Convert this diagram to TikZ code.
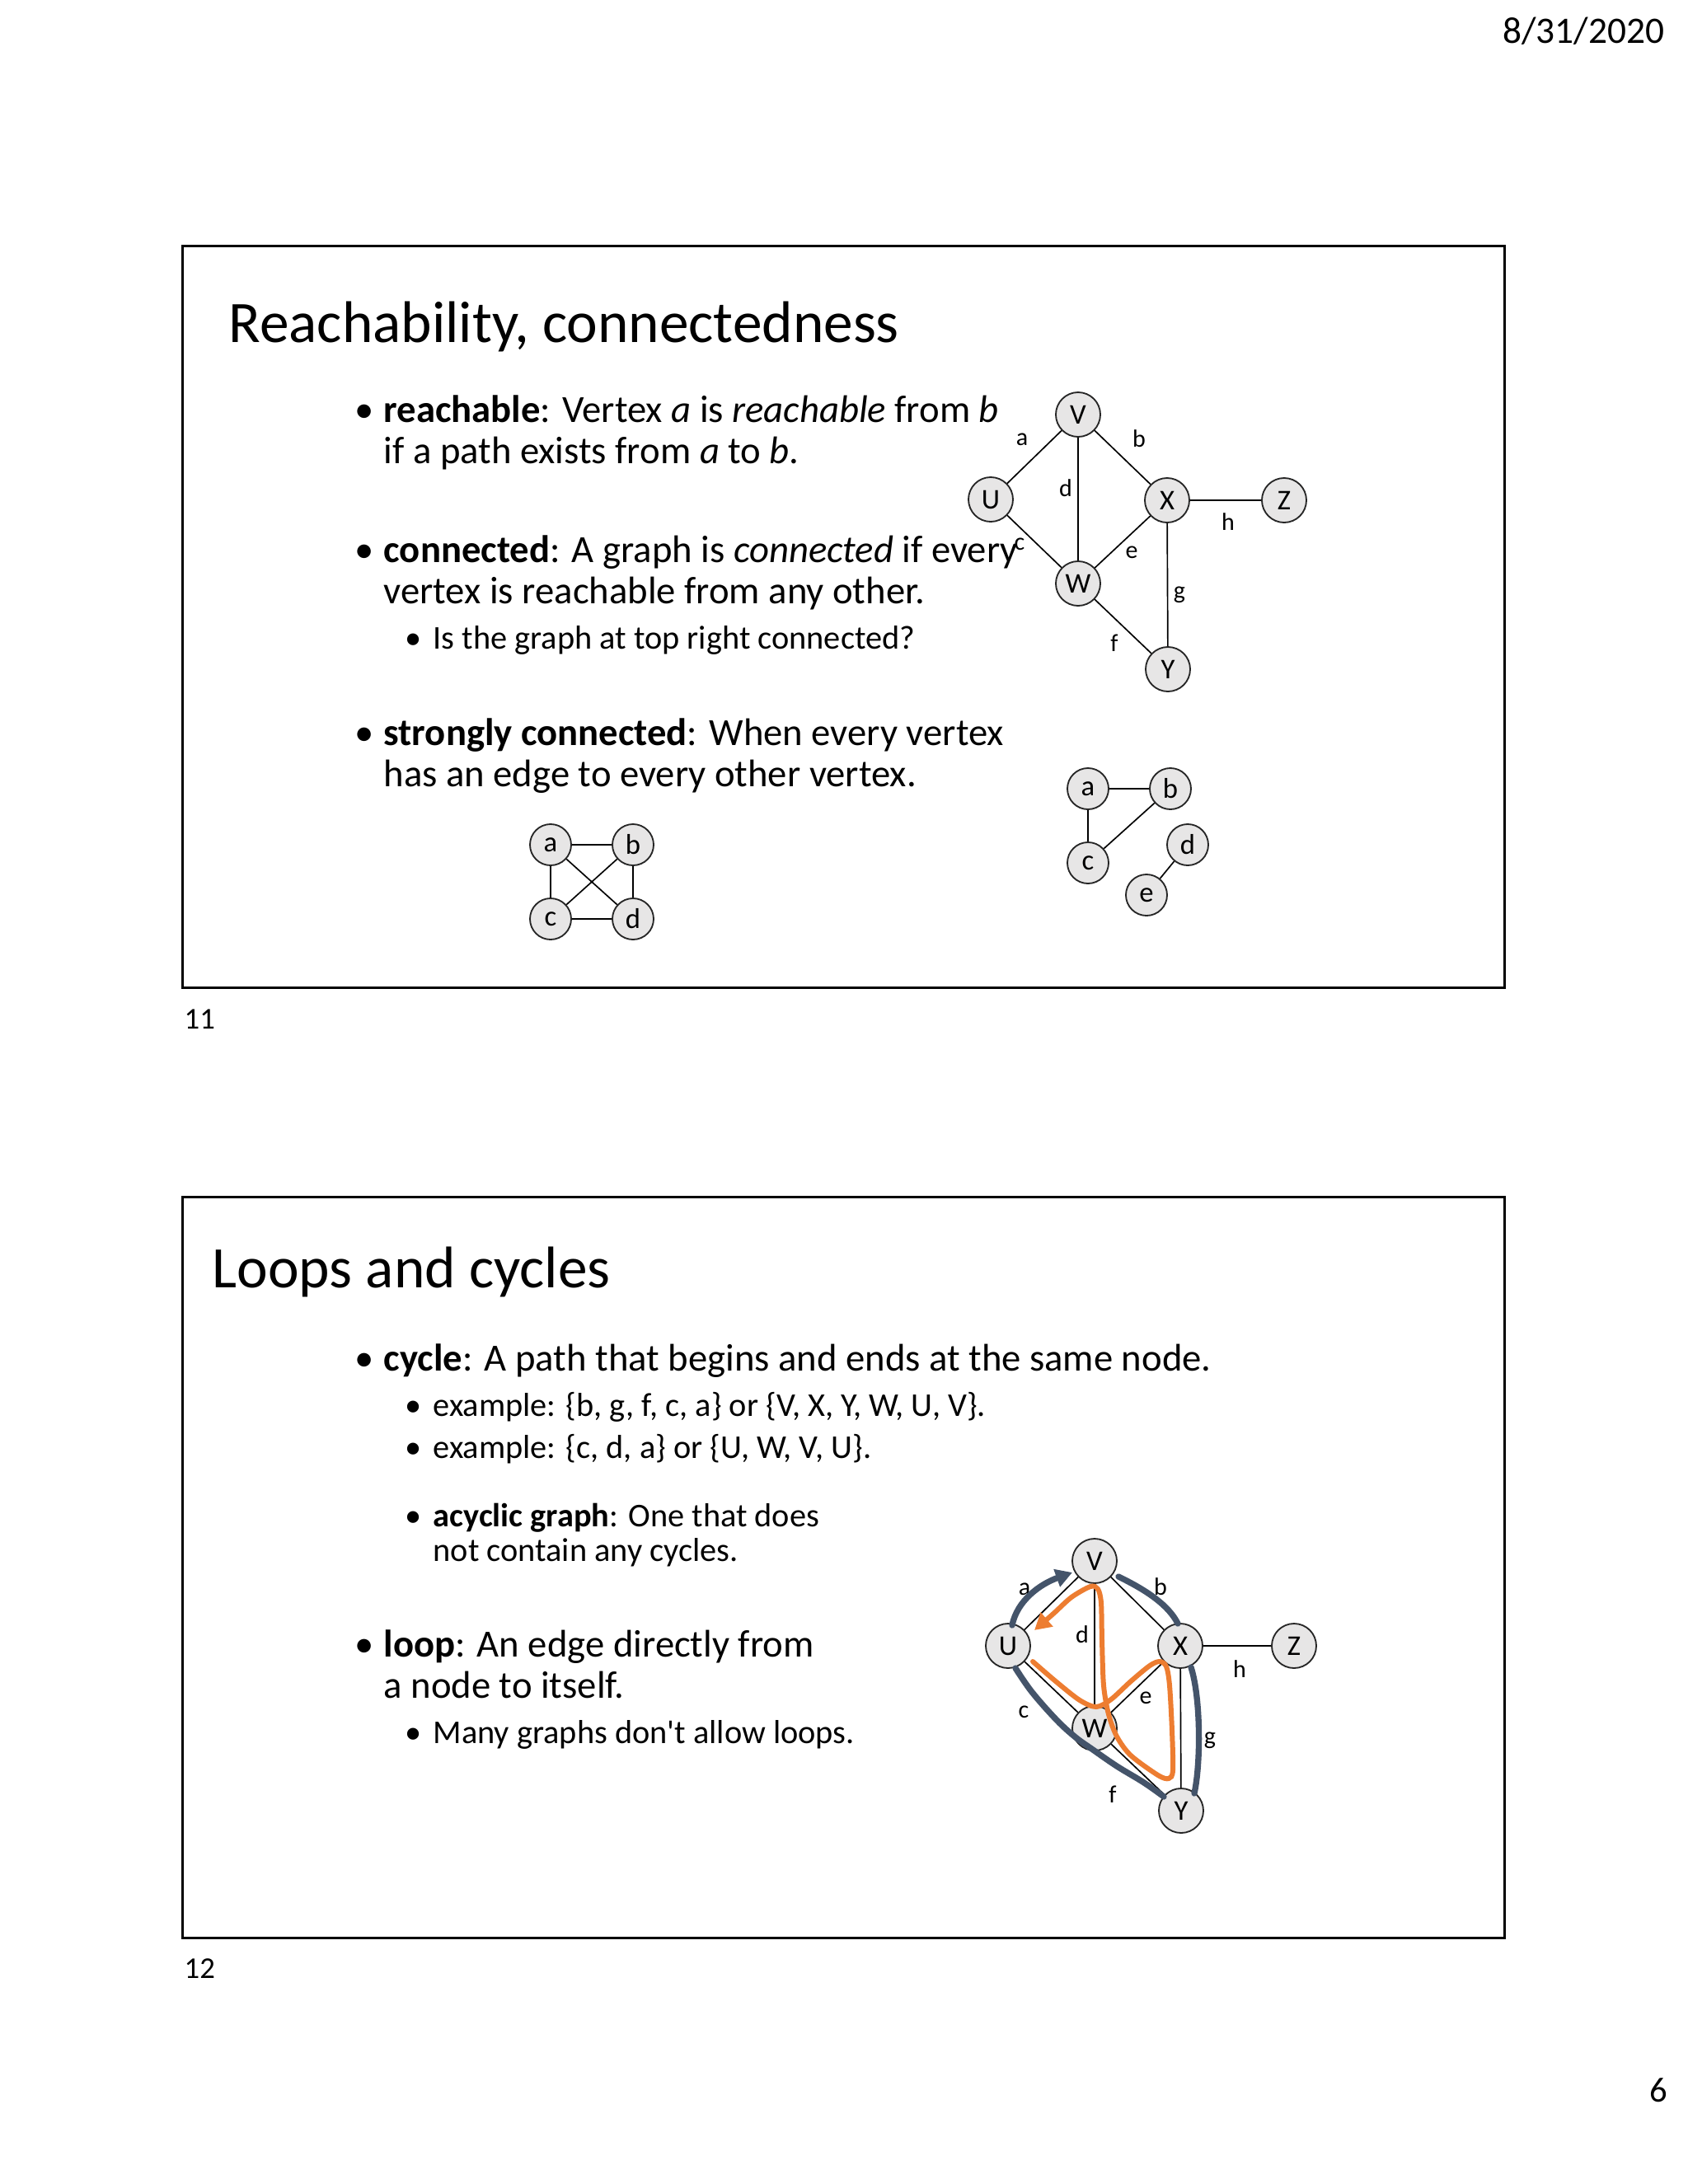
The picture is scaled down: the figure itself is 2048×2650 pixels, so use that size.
\documentclass[tikz,border=0pt]{standalone}
\usepackage{fontspec}
\setmainfont{Carlito}
\usetikzlibrary{arrows.meta,positioning}
\definecolor{vtxfill}{HTML}{E7E6E6}
\definecolor{vtxline}{HTML}{262626}
\definecolor{cycslate}{HTML}{44546A}
\definecolor{cycorange}{HTML}{ED7D31}
\tikzset{
  slideframe/.style={draw=black,line width=0.9pt},
  ttl/.style={anchor=base west,inner sep=0pt,font=\fontsize{21.4}{25}\selectfont},
  itemone/.style={anchor=base west,inner sep=0pt,align=left,font=\fontsize{14}{15}\selectfont},
  itemtwo/.style={anchor=base west,inner sep=0pt,align=left,font=\fontsize{12.1}{12.6}\selectfont},
  dotone/.style={anchor=base,inner sep=0pt,font=\fontsize{14}{15}\selectfont},
  dottwo/.style={anchor=base,inner sep=0pt,font=\fontsize{12.1}{12.6}\selectfont},
  vtx/.style={circle,draw=vtxline,fill=vtxfill,line width=0.55pt,minimum size=16.2pt,inner sep=0pt,font=\fontsize{10.4}{12}\selectfont},
  svtx/.style={vtx,minimum size=15pt},
  elbl/.style={inner sep=0pt,font=\fontsize{9}{11}\selectfont},
  link/.style={draw=black,line width=0.5pt},
  slatepath/.style={draw=cycslate,line width=2.2pt,line cap=round},
  orangepath/.style={draw=cycorange,line width=1.8pt,line cap=round},
  cyctip/.style={-{Triangle[length=6pt,width=6.5pt]}},
  meta/.style={inner sep=0pt,font=\fontsize{13.6}{15}\selectfont},
}
\begin{document}
\begin{tikzpicture}[x=0.3pt,y=-0.3pt]
  \useasboundingbox (0,0) rectangle (2048,2650);
  \fill[white] (0,0) rectangle (2048,2650);
  \node[meta,anchor=base east] (date) at (2020,52) {8/31/2020};
  \node[meta,anchor=base east,font=\fontsize{12.8}{15}\selectfont] (pageno) at (2024,2550) {6};

  % slide 11
  \draw[slideframe] (221,298) rectangle (1825,1198);
  \node[meta,anchor=base west,font=\fontsize{11}{13}\selectfont] (num11) at (223,1248) {11};
  \node[ttl] (title11) at (277,415) {Reachability, connectedness};
  \foreach \y in {512,682,904} \node[dotone] (dot\y) at (442,\y) {\textbullet};
  \node[dottwo] (dot787) at (502,787) {\textbullet};
  \node[itemone] (reach) at (465,562) {\textbf{reachable}: Vertex \textit{a} is \textit{reachable} from \textit{b}\\if a path exists from \textit{a} to \textit{b}.};
  \node[itemone] (conn) at (465,732) {\textbf{connected}: A graph is \textit{connected} if every\\vertex is reachable from any other.};
  \node[itemtwo] (ask) at (525,787) {Is the graph at top right connected?};
  \node[itemone] (strong) at (465,954) {\textbf{strongly connected}: When every vertex\\has an edge to every other vertex.};

  \node[vtx] (tV) at (1308,503) {V};
  \node[vtx] (tU) at (1202,606) {U};
  \node[vtx] (tX) at (1416,607) {X};
  \node[vtx] (tZ) at (1558,607) {Z};
  \node[vtx] (tW) at (1308,708) {W};
  \node[vtx] (tY) at (1417,812) {Y};
  \draw[link] (tU) -- (tV);
  \draw[link] (tV) -- (tX);
  \draw[link] (tU) -- (tW);
  \draw[link] (tV) -- (tW);
  \draw[link] (tW) -- (tX);
  \draw[link] (tW) -- (tY);
  \draw[link] (tX) -- (tY);
  \draw[link] (tX) -- (tZ);
  \node[elbl] (ta) at (1240,533) {a};
  \node[elbl] (tb) at (1382,532) {b};
  \node[elbl] (tc) at (1237,660) {c};
  \node[elbl] (td) at (1293,592) {d};
  \node[elbl] (te) at (1373,670) {e};
  \node[elbl] (tf) at (1352,780) {f};
  \node[elbl] (tg) at (1431,722) {g};
  \node[elbl] (th) at (1490,633) {h};

  % complete graph
  \node[svtx] (ka) at (668,1025) {a};
  \node[svtx] (kb) at (768,1025) {b};
  \node[svtx] (kc) at (668,1115) {c};
  \node[svtx] (kd) at (768,1115) {d};
  \draw[link] (ka) -- (kb);
  \draw[link] (kc) -- (kd);
  \draw[link] (ka) -- (kc);
  \draw[link] (kb) -- (kd);
  \draw[link] (ka) -- (kd);
  \draw[link] (kb) -- (kc);

  % two pieces
  \node[svtx] (ga) at (1320,957) {a};
  \node[svtx] (gb) at (1420,957) {b};
  \node[svtx] (gc) at (1320,1047) {c};
  \node[svtx] (gd) at (1441,1025) {d};
  \node[svtx] (ge) at (1391,1086) {e};
  \draw[link] (ga) -- (gb);
  \draw[link] (ga) -- (gc);
  \draw[link] (gb) -- (gc);
  \draw[link] (gd) -- (ge);

  % slide 12
  \draw[slideframe] (221,1452) rectangle (1825,2351);
  \node[meta,anchor=base west,font=\fontsize{11}{13}\selectfont] (num12) at (223,2400) {12};
  \node[ttl] (title12) at (257,1562) {Loops and cycles};
  \foreach \y in {1663,2010} \node[dotone] (dot\y) at (442,\y) {\textbullet};
  \foreach \y in {1718,1769,1852,2115} \node[dottwo] (dot\y) at (502,\y) {\textbullet};
  \node[itemone] (cyc) at (465,1663) {\textbf{cycle}: A path that begins and ends at the same node.};
  \node[itemtwo] (exone) at (525,1718) {example: \{b, g, f, c, a\} or \{V, X, Y, W, U, V\}.};
  \node[itemtwo] (extwo) at (525,1769) {example: \{c, d, a\} or \{U, W, V, U\}.};
  \node[itemtwo] (acyc) at (525,1894) {\textbf{acyclic graph}: One that does\\not contain any cycles.};
  \node[itemone] (loop) at (465,2060) {\textbf{loop}: An edge directly from\\a node to itself.};
  \node[itemtwo] (many) at (525,2115) {Many graphs don\textquotesingle t allow loops.};

  \node[vtx] (bV) at (1328,1894) {V};
  \node[vtx] (bU) at (1223,1997) {U};
  \node[vtx] (bX) at (1432,1997) {X};
  \node[vtx] (bZ) at (1570,1997) {Z};
  \node[vtx] (bW) at (1328,2097) {W};
  \node[vtx] (bY) at (1433,2197) {Y};
  \draw[link] (bU) -- (bV);
  \draw[link] (bV) -- (bX);
  \draw[link] (bU) -- (bW);
  \draw[link] (bV) -- (bW);
  \draw[link] (bW) -- (bX);
  \draw[link] (bW) -- (bY);
  \draw[link] (bX) -- (bY);
  \draw[link] (bX) -- (bZ);
  \node[elbl] (ba) at (1243,1928) {a};
  \node[elbl] (bb) at (1408,1925) {b};
  \node[elbl] (bc) at (1242,2077) {c};
  \node[elbl] (bd) at (1313,1983) {d};
  \node[elbl] (be) at (1390,2060) {e};
  \node[elbl] (bf) at (1350,2177) {f};
  \node[elbl] (bg) at (1468,2112) {g};
  \node[elbl] (bh) at (1504,2025) {h};

  % cycle {b, g, f, c, a}
  \draw[slatepath] (1357,1913) .. controls (1392,1930) and (1418,1948) .. (1429,1970);
  \draw[slatepath] (1445,2023) .. controls (1457,2060) and (1457,2140) .. (1449,2176);
  \draw[slatepath] plot[smooth,tension=0.6] coordinates {(1412,2180) (1388,2163) (1355,2143) (1326,2123) (1305,2108) (1282,2087) (1252,2053) (1232,2024)};
  \draw[slatepath,cyctip] (1228,1972) .. controls (1234,1942) and (1262,1922) .. (1301,1908);
  % cycle {c, d, a}
  \draw[orangepath,cyctip] plot[smooth,tension=0.5] coordinates {(1253,2016) (1282,2041) (1310,2063) (1330,2071) (1348,2062) (1372,2040) (1395,2021) (1407,2016) (1415,2022) (1419,2045) (1422,2100) (1423,2148) (1418,2158) (1405,2154) (1372,2130) (1355,2107) (1345,2080) (1339,2045) (1337,1990) (1336,1945) (1332,1928) (1323,1925) (1300,1938) (1278,1958) (1255,1978)};
\end{tikzpicture}
\end{document}
